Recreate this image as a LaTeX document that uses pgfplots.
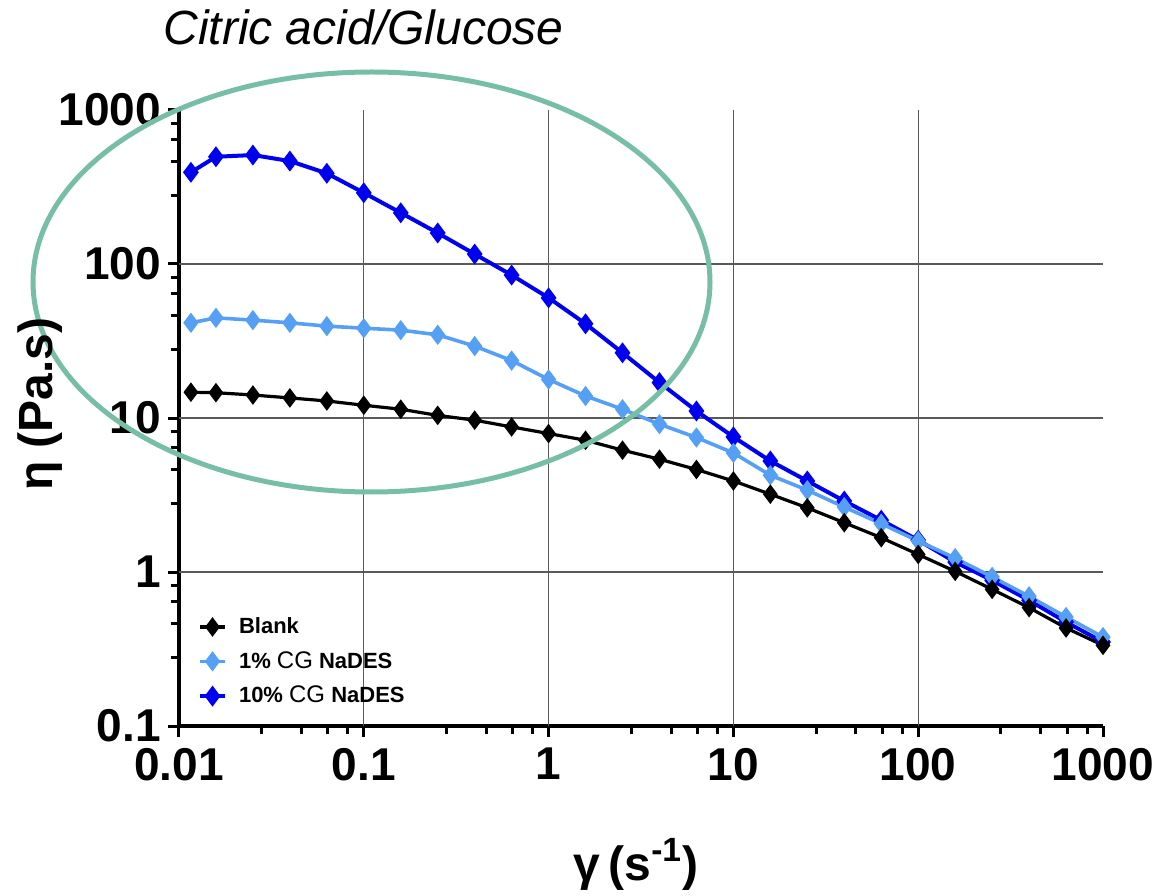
\documentclass[border=0pt]{standalone}
\usepackage{fontspec}
\setmainfont{Liberation Sans}
\usepackage{pgfplots}
\pgfplotsset{compat=1.18}
\definecolor{lblue}{RGB}{85,160,245}
\definecolor{dblue}{RGB}{0,0,240}
\definecolor{egreen}{RGB}{118,190,164}

\pgfplotstableread{
x        blank  one    ten
0.0116   14.7   41.5   394
0.01585  14.6   44.7   497
0.02512  14.1   43.2   510
0.03981  13.5   41.5   466
0.0631   12.9   39.5   388
0.1      12.1   38.3   290
0.1585   11.4   37.2   215
0.2512   10.4   34.7   159
0.3981   9.68   29.3   116
0.631    8.75   23.6   84.7
1        7.93   17.8   60.3
1.585    7.17   13.9   40.9
2.512    6.18   11.4   26.5
3.981    5.40   9.12   17.0
6.31     4.63   7.47   11.1
10       3.90   5.93   7.54
15.85    3.20   4.25   5.26
25.12    2.61   3.40   3.90
39.81    2.09   2.64   2.89
63.1     1.67   2.06   2.17
100      1.30   1.59   1.61
158.5    1.01   1.23   1.16
251.2    0.772  0.929  0.883
398.1    0.587  0.695  0.655
631      0.433  0.510  0.473
1000     0.334  0.378  0.351
}\datatable

\begin{document}
\begin{tikzpicture}
\begin{axis}[
  at={(0pt,0pt)}, anchor=south west,
  scale only axis, width=462pt, height=308pt,
  xmode=log, ymode=log,
  xmin=0.01, xmax=1000, ymin=0.1, ymax=1000,
  axis x line*=bottom, axis y line*=left,
  axis line style={line width=2pt, black},
  xtick={0.01,0.1,1,10,100,1000},
  xticklabels={0.01,0.1,1,10,100,1000},
  ytick={0.1,1,10,100,1000},
  yticklabels={0.1,1,10,100,1000},
  minor xtick={0.028,0.046,0.064,0.082,0.28,0.46,0.64,0.82,2.8,4.6,6.4,8.2,28,46,64,82,280,460,640,820},
  minor ytick={0.28,0.46,0.64,0.82,2.8,4.6,6.4,8.2,28,46,64,82,280,460,640,820},
  tick align=outside,
  major tick length=5.5pt, minor tick length=4pt,
  major tick style={black, line width=1.5pt},
  minor tick style={black, line width=1.5pt},
  tick label style={font=\fontsize{23}{26}\selectfont\bfseries},
  xticklabel style={yshift=-2pt},
  extra x ticks={0.1,1,10,100}, extra x tick labels={},
  extra y ticks={1,10,100}, extra y tick labels={},
  extra tick style={grid=major, major tick length=0pt},
  major grid style={black!65, line width=0.6pt},
  reverse legend,
  legend cell align=left,
  legend style={draw=none, fill=none, inner sep=0pt, outer sep=0pt,
    at={(axis description cs:0.0206,0.1826)}, anchor=north west,
    font=\fontsize{11}{12}\selectfont\bfseries,
    row sep=3.5pt, column sep=4pt},
  legend image code/.code={\draw[mark repeat=2,mark phase=2] plot coordinates {(0pt,0pt) (6.25pt,0pt) (12.5pt,0pt)};},
]
\addplot[dblue, line width=2pt, mark=diamond*, mark size=3.6pt, mark options={solid}] table[x=x,y=ten] {\datatable};
\addlegendentry{10\% {\mdseries\fontsize{12}{12}\selectfont CG} NaDES}
\addplot[lblue, line width=1.8pt, mark=diamond*, mark size=3.6pt, mark options={solid}] table[x=x,y=one] {\datatable};
\addlegendentry{1\% {\mdseries\fontsize{12}{12}\selectfont CG} NaDES}
\addplot[black, line width=1.6pt, mark=diamond*, mark size=3.6pt, mark options={solid}] table[x=x,y=blank] {\datatable};
\addlegendentry{Blank}
\end{axis}
\draw[egreen, line width=2.5pt] (96.25pt,222pt) ellipse [x radius=169.25pt, y radius=105pt];
\node[anchor=base west, font=\fontsize{24}{28}\selectfont\itshape, inner sep=0pt] at (-8pt,340.5pt) {Citric acid/Glucose};
\node[anchor=base, font=\fontsize{24}{28}\selectfont\bfseries, inner sep=0pt] at (228.5pt,-77pt) {γ\,(s\textsuperscript{-1})};
\node[anchor=base, rotate=90, font=\fontsize{24}{28}\selectfont\bfseries, inner sep=0pt] at (-63pt,161pt) {η (Pa.s)};
\pgfresetboundingbox
\useasboundingbox (-89.5pt,-84.5pt) rectangle (489pt,363pt);
\end{tikzpicture}
\end{document}
